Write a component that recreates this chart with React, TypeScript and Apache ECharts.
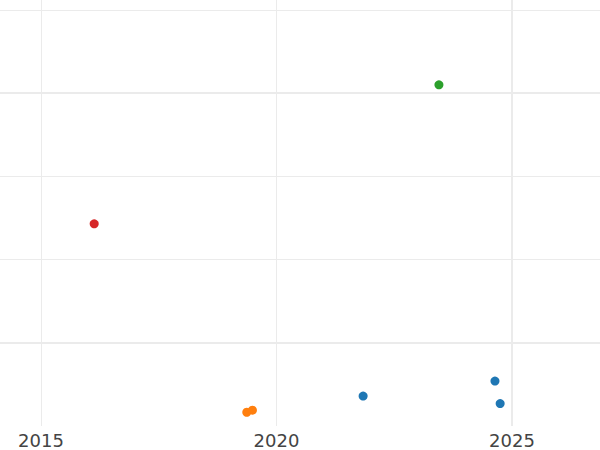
import React, { useEffect, useRef } from "react";
import * as echarts from "echarts";

const xTickLabels = [2015, 2020, 2025];
const xMajorLines = [2025];
const xMinorLines = [2015, 2020];
const yMajorLines = [1, 4];
const yMinorLines = [2, 3, 5];

const blueX = [2021.84, 2024.64, 2024.75];
const blueY = [0.36, 0.54, 0.27];
const orangeX = [2019.37, 2019.49];
const orangeY = [0.165, 0.19];
const greenX = [2023.45];
const greenY = [4.1];
const redX = [2016.13];
const redY = [2.43];

const zip = (xs: number[], ys: number[]) => xs.map((x, i) => [x, ys[i]]);

export default function App() {
  const ref = useRef<HTMLDivElement>(null);
  useEffect(() => {
    if (!ref.current) return;
    const chart = echarts.init(ref.current, undefined, { renderer: "svg" });
    const gridColor = "#ebebeb";
    const lines: any[] = [
      ...xMinorLines.map((v) => ({ xAxis: v, lineStyle: { width: 1, color: gridColor, type: "solid" } })),
      ...xMajorLines.map((v) => ({ xAxis: v, lineStyle: { width: 2, color: gridColor, type: "solid" } })),
      ...yMinorLines.map((v) => ({ yAxis: v, lineStyle: { width: 1, color: gridColor, type: "solid" } })),
      ...yMajorLines.map((v) => ({ yAxis: v, lineStyle: { width: 2, color: gridColor, type: "solid" } })),
    ];
    const pt = (name: string, color: string, xs: number[], ys: number[]) => ({
      type: "scatter",
      name,
      data: zip(xs, ys),
      symbolSize: 9,
      itemStyle: { color, opacity: 1 },
      z: 3,
    });
    chart.setOption({
      animation: false,
      backgroundColor: "#ffffff",
      grid: { left: 0, right: 0, top: 0, bottom: 24, containLabel: false },
      xAxis: {
        type: "value",
        min: 2014.13,
        max: 2026.87,
        axisLine: { show: false },
        axisTick: { show: false },
        splitLine: { show: false },
        axisLabel: {
          customValues: xTickLabels,
          color: "#444444",
          fontSize: 18,
          fontFamily: "DejaVu Sans",
          margin: 5,
          formatter: (v: number) => String(Math.round(v)),
        },
      },
      yAxis: {
        type: "value",
        min: 0,
        max: 5.12,
        axisLine: { show: false },
        axisTick: { show: false },
        axisLabel: { show: false },
        splitLine: { show: false },
      },
      series: [
        {
          type: "scatter",
          data: [],
          z: 1,
          silent: true,
          markLine: {
            silent: true,
            symbol: "none",
            label: { show: false },
            animation: false,
            data: lines,
          },
        },
        pt("blue", "#1f77b4", blueX, blueY),
        pt("orange", "#ff7f0e", orangeX, orangeY),
        pt("green", "#2ca02c", greenX, greenY),
        pt("red", "#d62728", redX, redY),
      ],
    });
    return () => chart.dispose();
  }, []);
  return (
    <div
      ref={ref}
      style={{ position: "absolute", left: 0, top: 0, width: 600, height: 450 }}
    />
  );
}
